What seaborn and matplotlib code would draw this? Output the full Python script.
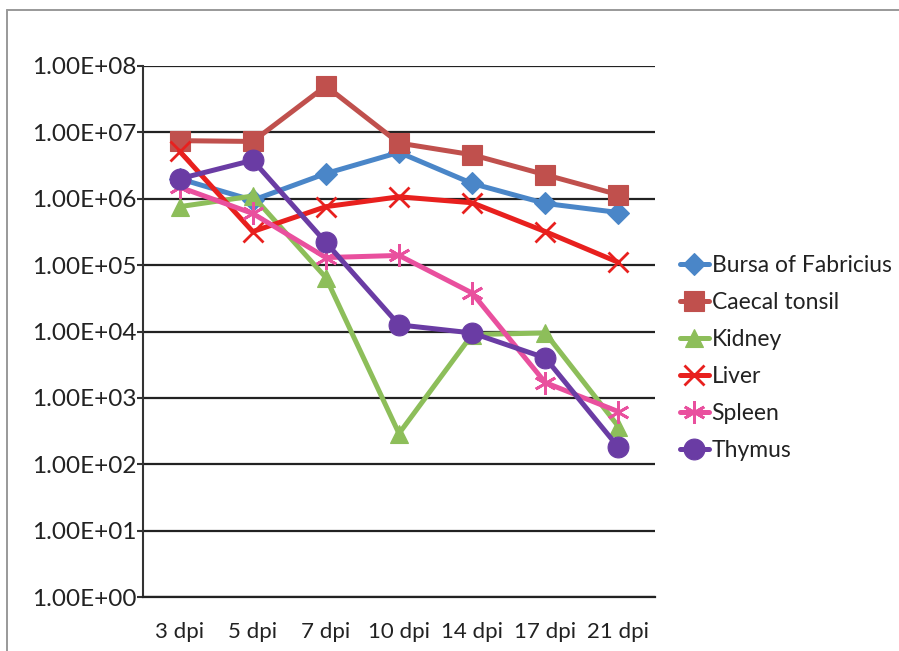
import matplotlib
matplotlib.use("Agg")
import matplotlib.pyplot as plt
import matplotlib.ticker as mticker
from matplotlib.lines import Line2D
import seaborn as sns
import pandas as pd
import numpy as np

days = ["3 dpi", "5 dpi", "7 dpi", "10 dpi", "14 dpi", "17 dpi", "21 dpi"]
bursa = [2.0e6, 9.5e5, 2.4e6, 5.0e6, 1.7e6, 8.5e5, 6.2e5]
caecal = [7.5e6, 7.3e6, 5.0e7, 6.9e6, 4.6e6, 2.3e6, 1.15e6]
kidney = [7.6e5, 1.1e6, 6.5e4, 2.9e2, 9.0e3, 9.5e3, 3.7e2]
liver = [5.2e6, 3.2e5, 7.6e5, 1.07e6, 8.7e5, 3.2e5, 1.1e5]
spleen = [1.5e6, 6.0e5, 1.3e5, 1.4e5, 3.8e4, 1.7e3, 6.2e2]
thymus = [2.0e6, 3.8e6, 2.2e5, 1.26e4, 9.5e3, 4.0e3, 1.8e2]
organs = ["Bursa of Fabricius", "Caecal tonsil", "Kidney", "Liver", "Spleen", "Thymus"]
series = [bursa, caecal, kidney, liver, spleen, thymus]
yticks = [1e0, 1e1, 1e2, 1e3, 1e4, 1e5, 1e6, 1e7, 1e8]

colors = ["#4A86C8", "#C0504D", "#8DBE5A", "#E8201E", "#E9509E", "#6A3CA4"]
markers = ["D", "s", "^", "x", (6, 2, 0), "o"]
msizes = [11, 15, 13, 15, 16, 15]

sns.set_style("white")
plt.rcParams["font.family"] = ["Lato", "DejaVu Sans"]

fig = plt.figure(figsize=(8.99, 6.51), dpi=100)
ax = fig.add_axes([143 / 899, 1 - 597 / 651, (655 - 143) / 899, (597 - 66) / 651])

rows = []
for org, vals in zip(organs, series):
    for i, v in enumerate(vals):
        rows.append({"organ": org, "pos": i, "value": v})
df = pd.DataFrame(rows)

for org, col, mk, ms in zip(organs, colors, markers, msizes):
    sub = df[df["organ"] == org]
    sns.lineplot(data=sub, x="pos", y="value", ax=ax, color=col, lw=3.6,
                 marker=mk, markersize=ms, markeredgecolor=col,
                 markeredgewidth=2.0 if mk in ("x", (6, 2, 0)) else 0.8,
                 label=org, zorder=3)

ax.set_yscale("log")
ax.set_ylim(1e0, 1e8)
ax.set_xlim(-0.5, 6.5)
ax.yaxis.set_major_locator(mticker.FixedLocator(yticks))
ax.yaxis.set_minor_locator(mticker.NullLocator())
ax.yaxis.set_major_formatter(mticker.FuncFormatter(lambda v, p: "%.2E" % v))
ax.set_xticks(range(len(days)))
ax.set_xticklabels(days)
ax.set_xticks(np.arange(-0.5, len(days), 1.0), minor=True)
ax.tick_params(axis="x", which="major", length=0, pad=18, labelsize=16, colors="#222")
ax.tick_params(axis="x", which="minor", length=6, width=1.5, color="#333", direction="out")
ax.tick_params(axis="y", which="major", length=4, width=1.5, color="#333", pad=1,
               labelsize=17.5, labelcolor="#222", direction="out", left=True)
ax.set_xlabel("")
ax.set_ylabel("")

ax.grid(axis="y", color="#222", lw=1.6, zorder=1)
ax.grid(axis="x", visible=False)
for s in ["top", "right"]:
    ax.spines[s].set_visible(False)
ax.spines["left"].set_color("#333")
ax.spines["left"].set_linewidth(1.5)
ax.spines["bottom"].set_color("#222")
ax.spines["bottom"].set_linewidth(1.6)

leg = ax.legend(loc="center left", bbox_to_anchor=(1.03, 0.45), frameon=False,
                fontsize=16.5, handlelength=1.3, handletextpad=0.1, labelspacing=0.7,
                borderaxespad=0)
for t in leg.get_texts():
    t.set_color("#222")

# outer gray frame (top and left)
fig.add_artist(Line2D([7 / 899, 1], [1 - 10 / 651, 1 - 10 / 651], color="#999", lw=1.4,
                      transform=fig.transFigure))
fig.add_artist(Line2D([7 / 899, 7 / 899], [0, 1 - 10 / 651], color="#999", lw=1.4,
                      transform=fig.transFigure))

fig.savefig("out.png", dpi=100)
